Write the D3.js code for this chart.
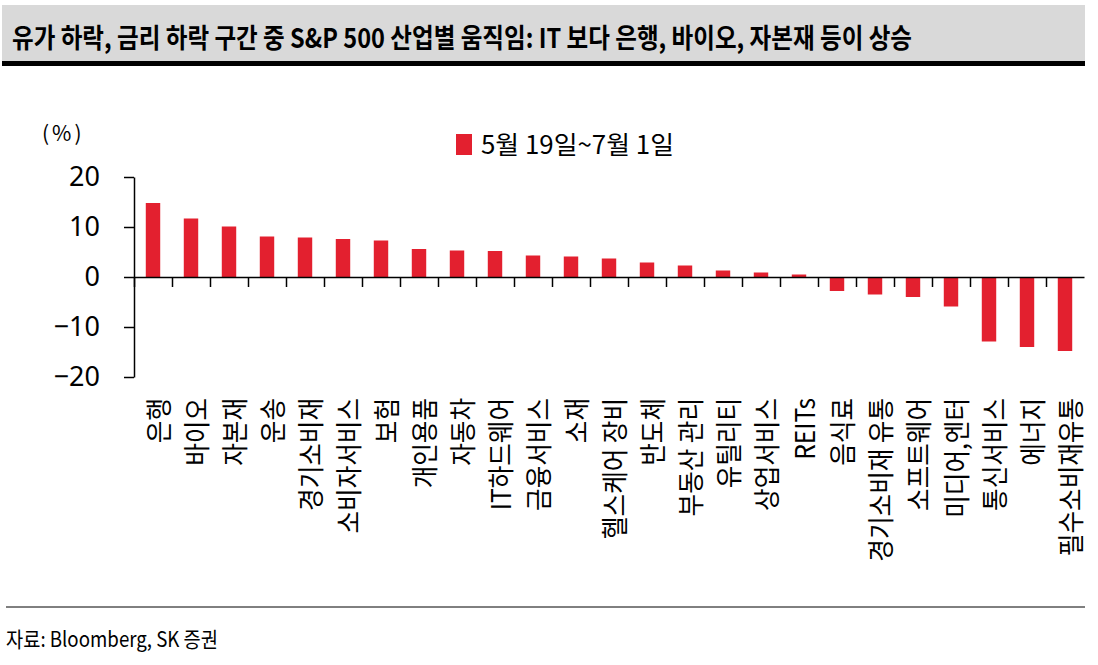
<!DOCTYPE html>
<html>
<head>
<meta charset="utf-8">
<script src="https://cdn.jsdelivr.net/npm/d3@7"></script>
<style>
  body { margin: 0; background: #fff; }
  svg { display: block; font-family: "Noto Sans CJK KR", "Noto Sans", sans-serif; }
</style>
</head>
<body>
<div id="chart"></div>
<script>
// 업종 (x축), 5월 19일~7월 1일 수익률 (%)
const categories = ["은행", "바이오", "자본재", "운송", "경기소비재", "소비자서비스", "보험", "개인용품",
  "자동차", "IT하드웨어", "금융서비스", "소재", "헬스케어 장비", "반도체", "부동산 관리", "유틸리티",
  "상업서비스", "REITs", "음식료", "경기소비재 유통", "소프트웨어", "미디어,엔터", "통신서비스", "에너지", "필수소비재유통"];
const values = [14.8, 11.7, 10.1, 8.1, 7.9, 7.6, 7.3, 5.6,
  5.3, 5.2, 4.3, 4.1, 3.7, 2.9, 2.3, 1.3,
  0.9, 0.5, -2.8, -3.5, -4.0, -5.9, -12.9, -14.0, -14.8];
const yTicks = [20, 10, 0, -10, -20];
const seriesName = "5월 19일~7월 1일";

const data = categories.map((c, i) => ({ cat: c, val: values[i] }));

const W = 1098, H = 665;
const red = "#e3202f";

const svg = d3.select("#chart").append("svg")
  .attr("width", W)
  .attr("height", H);

// 제목 영역
svg.append("rect")
  .attr("x", 2).attr("y", 5)
  .attr("width", 1083).attr("height", 57)
  .attr("fill", "#d9d9d9");
svg.append("rect")
  .attr("x", 2).attr("y", 61)
  .attr("width", 1083).attr("height", 5)
  .attr("fill", "#000");
svg.append("text")
  .attr("x", 12).attr("y", 48)
  .attr("font-size", 27)
  .attr("font-weight", 700)
  .attr("textLength", 900)
  .attr("lengthAdjust", "spacingAndGlyphs")
  .text("유가 하락, 금리 하락 구간 중 S&P 500 산업별 움직임: IT 보다 은행, 바이오, 자본재 등이 상승");

// 스케일
const x = d3.scaleBand()
  .domain(categories)
  .range([134, 1084])
  .paddingInner(0.62)
  .paddingOuter(0.31);

const xEdge = d3.scaleLinear()
  .domain([0, categories.length])
  .range([134, 1084]);

const y = d3.scaleLinear()
  .domain([-20, 20])
  .range([377, 177]);

// 막대
svg.selectAll(".bar")
  .data(data)
  .enter()
  .append("rect")
  .attr("class", "bar")
  .attr("x", d => x(d.cat))
  .attr("y", d => y(Math.max(0, d.val)))
  .attr("width", x.bandwidth())
  .attr("height", d => Math.abs(y(d.val) - y(0)))
  .attr("fill", red);

// y축
const yAxis = svg.append("g")
  .attr("transform", "translate(134,0)")
  .call(d3.axisLeft(y).tickValues(yTicks).tickSize(10).tickSizeOuter(0).tickPadding(24));
yAxis.select(".domain").attr("stroke", "#000").attr("stroke-width", 1.5);
yAxis.selectAll(".tick line").attr("stroke", "#000").attr("stroke-width", 1.5);
yAxis.selectAll("text")
  .attr("font-family", "'Noto Sans', sans-serif")
  .attr("font-size", 27)
  .attr("fill", "#000");

// x축 (구간 경계 눈금)
const xAxis = svg.append("g")
  .attr("transform", `translate(0,${y(0)})`)
  .call(d3.axisBottom(xEdge)
    .tickValues(d3.range(0, categories.length))
    .tickSize(10)
    .tickSizeOuter(0)
    .tickFormat(""));
xAxis.select(".domain").attr("stroke", "#000").attr("stroke-width", 1.5);
xAxis.selectAll(".tick line").attr("stroke", "#000").attr("stroke-width", 1.5);

// 업종 라벨 (세로)
svg.selectAll(".cat-label")
  .data(categories)
  .enter()
  .append("text")
  .attr("class", "cat-label")
  .attr("transform", d => `translate(${x(d) + x.bandwidth() / 2},398) rotate(-90) scale(0.91,1)`)
  .attr("text-anchor", "end")
  .attr("dy", "0.6em")
  .attr("font-size", 27)
  .attr("fill", "#000")
  .text(d => d);

// 단위
svg.append("text")
  .attr("x", 42).attr("y", 141)
  .attr("font-size", 21)
  .attr("letter-spacing", 3)
  .text("(%)");

// 범례
svg.append("rect")
  .attr("x", 456).attr("y", 134)
  .attr("width", 16).attr("height", 21)
  .attr("fill", red);
svg.append("text")
  .attr("x", 481).attr("y", 154)
  .attr("font-size", 25)
  .attr("textLength", 193)
  .attr("lengthAdjust", "spacingAndGlyphs")
  .text(seriesName);

// 하단 출처
svg.append("line")
  .attr("x1", 6).attr("x2", 1085)
  .attr("y1", 607).attr("y2", 607)
  .attr("stroke", "#000")
  .attr("stroke-width", 1);
svg.append("text")
  .attr("x", 6).attr("y", 647)
  .attr("font-size", 21)
  .attr("textLength", 212)
  .attr("lengthAdjust", "spacingAndGlyphs")
  .text("자료: Bloomberg, SK 증권");
</script>
</body>
</html>
